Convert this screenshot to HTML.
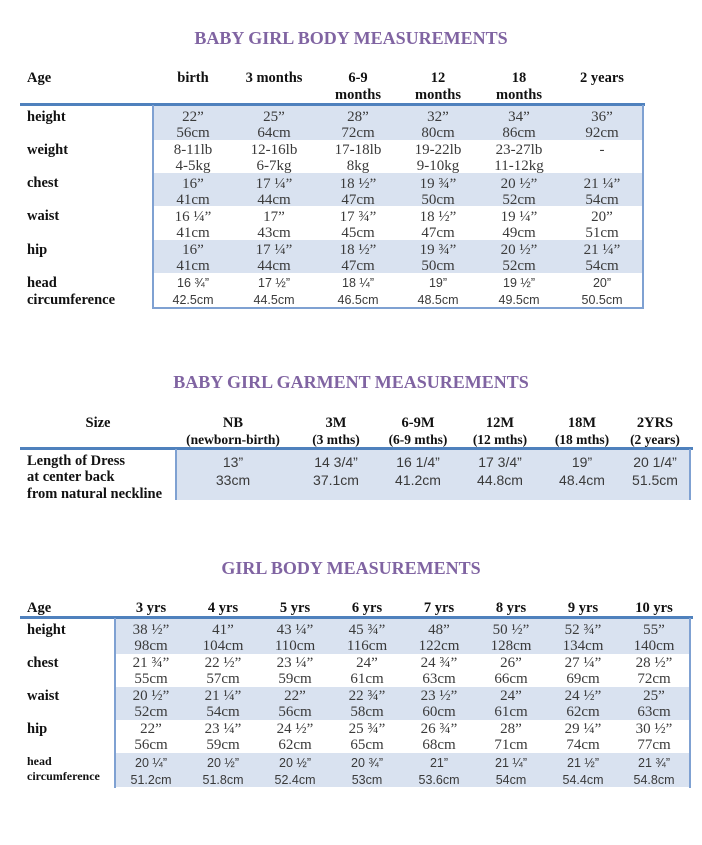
<!DOCTYPE html>
<html><head><meta charset="utf-8">
<style>
html,body{margin:0;padding:0;background:#fff;}
body{width:702px;height:845px;position:relative;overflow:hidden;font-family:"Liberation Serif",serif;}
.t{position:absolute;left:0;width:702px;text-align:center;font-weight:bold;font-size:18px;color:#8064a2;height:20px;line-height:20px;}
.h{position:absolute;width:120px;margin-left:-60px;text-align:center;font-weight:bold;font-size:14.5px;color:#111;height:18px;line-height:18px;margin-top:-9px;white-space:nowrap;}
.l{position:absolute;left:27px;font-weight:bold;font-size:14.5px;color:#111;height:18px;line-height:18px;margin-top:-9px;white-space:nowrap;}
.v{position:absolute;width:90px;margin-left:-45px;text-align:center;font-size:15px;color:#3a3a3a;height:16px;line-height:16px;margin-top:-8px;white-space:nowrap;}
.s{font-family:"Liberation Sans",sans-serif;font-size:12.5px;}
.hl{position:absolute;height:3px;background:#4f81bd;}
.sh{position:absolute;background:#d9e2f0;}
.bl{position:absolute;background:#7fa1d2;}
</style></head><body>

<!-- TABLE 1 -->
<div class="t" style="top:28px;">BABY GIRL BODY MEASUREMENTS</div>
<div class="l" style="top:78px;">Age</div>
<div class="h" style="left:193px;top:78px;">birth</div>
<div class="h" style="left:274px;top:78px;">3 months</div>
<div class="h" style="left:358px;top:78px;">6-9</div>
<div class="h" style="left:358px;top:95px;">months</div>
<div class="h" style="left:438px;top:78px;">12</div>
<div class="h" style="left:438px;top:95px;">months</div>
<div class="h" style="left:519px;top:78px;">18</div>
<div class="h" style="left:519px;top:95px;">months</div>
<div class="h" style="left:602px;top:78px;">2 years</div>

<div class="sh" style="left:153px;top:106px;width:490px;height:34px;"></div>
<div class="sh" style="left:153px;top:173px;width:490px;height:33px;"></div>
<div class="sh" style="left:153px;top:240px;width:490px;height:33px;"></div>
<div class="hl" style="left:20px;top:103px;width:625px;"></div>
<div class="bl" style="left:152px;top:105px;width:2px;height:204px;"></div>
<div class="bl" style="left:642px;top:105px;width:2px;height:204px;"></div>
<div class="bl" style="left:152px;top:307px;width:492px;height:2px;"></div>

<div class="l" style="top:117px;">height</div>
<div class="l" style="top:150px;">weight</div>
<div class="l" style="top:183px;">chest</div>
<div class="l" style="top:216px;">waist</div>
<div class="l" style="top:283px;">head</div>
<div class="l" style="top:250px;">hip</div>
<div class="l" style="top:300px;">circumference</div>

<!-- height -->
<div class="v" style="left:193px;top:117px;">22”</div><div class="v" style="left:193px;top:133px;">56cm</div>
<div class="v" style="left:274px;top:117px;">25”</div><div class="v" style="left:274px;top:133px;">64cm</div>
<div class="v" style="left:358px;top:117px;">28”</div><div class="v" style="left:358px;top:133px;">72cm</div>
<div class="v" style="left:438px;top:117px;">32”</div><div class="v" style="left:438px;top:133px;">80cm</div>
<div class="v" style="left:519px;top:117px;">34”</div><div class="v" style="left:519px;top:133px;">86cm</div>
<div class="v" style="left:602px;top:117px;">36”</div><div class="v" style="left:602px;top:133px;">92cm</div>
<!-- weight -->
<div class="v" style="left:193px;top:150px;">8-11lb</div><div class="v" style="left:193px;top:166px;">4-5kg</div>
<div class="v" style="left:274px;top:150px;">12-16lb</div><div class="v" style="left:274px;top:166px;">6-7kg</div>
<div class="v" style="left:358px;top:150px;">17-18lb</div><div class="v" style="left:358px;top:166px;">8kg</div>
<div class="v" style="left:438px;top:150px;">19-22lb</div><div class="v" style="left:438px;top:166px;">9-10kg</div>
<div class="v" style="left:519px;top:150px;">23-27lb</div><div class="v" style="left:519px;top:166px;">11-12kg</div>
<div class="v" style="left:602px;top:150px;">-</div>
<!-- chest -->
<div class="v" style="left:193px;top:184px;">16”</div><div class="v" style="left:193px;top:200px;">41cm</div>
<div class="v" style="left:274px;top:184px;">17 ¼”</div><div class="v" style="left:274px;top:200px;">44cm</div>
<div class="v" style="left:358px;top:184px;">18 ½”</div><div class="v" style="left:358px;top:200px;">47cm</div>
<div class="v" style="left:438px;top:184px;">19 ¾”</div><div class="v" style="left:438px;top:200px;">50cm</div>
<div class="v" style="left:519px;top:184px;">20 ½”</div><div class="v" style="left:519px;top:200px;">52cm</div>
<div class="v" style="left:602px;top:184px;">21 ¼”</div><div class="v" style="left:602px;top:200px;">54cm</div>
<!-- waist -->
<div class="v" style="left:193px;top:217px;">16 ¼”</div><div class="v" style="left:193px;top:233px;">41cm</div>
<div class="v" style="left:274px;top:217px;">17”</div><div class="v" style="left:274px;top:233px;">43cm</div>
<div class="v" style="left:358px;top:217px;">17 ¾”</div><div class="v" style="left:358px;top:233px;">45cm</div>
<div class="v" style="left:438px;top:217px;">18 ½”</div><div class="v" style="left:438px;top:233px;">47cm</div>
<div class="v" style="left:519px;top:217px;">19 ¼”</div><div class="v" style="left:519px;top:233px;">49cm</div>
<div class="v" style="left:602px;top:217px;">20”</div><div class="v" style="left:602px;top:233px;">51cm</div>
<!-- hip -->
<div class="v" style="left:193px;top:250px;">16”</div><div class="v" style="left:193px;top:266px;">41cm</div>
<div class="v" style="left:274px;top:250px;">17 ¼”</div><div class="v" style="left:274px;top:266px;">44cm</div>
<div class="v" style="left:358px;top:250px;">18 ½”</div><div class="v" style="left:358px;top:266px;">47cm</div>
<div class="v" style="left:438px;top:250px;">19 ¾”</div><div class="v" style="left:438px;top:266px;">50cm</div>
<div class="v" style="left:519px;top:250px;">20 ½”</div><div class="v" style="left:519px;top:266px;">52cm</div>
<div class="v" style="left:602px;top:250px;">21 ¼”</div><div class="v" style="left:602px;top:266px;">54cm</div>
<!-- head -->
<div class="v s" style="left:193px;top:283px;">16 ¾”</div><div class="v s" style="left:193px;top:300px;">42.5cm</div>
<div class="v s" style="left:274px;top:283px;">17 ½”</div><div class="v s" style="left:274px;top:300px;">44.5cm</div>
<div class="v s" style="left:358px;top:283px;">18 ¼”</div><div class="v s" style="left:358px;top:300px;">46.5cm</div>
<div class="v s" style="left:438px;top:283px;">19”</div><div class="v s" style="left:438px;top:300px;">48.5cm</div>
<div class="v s" style="left:519px;top:283px;">19 ½”</div><div class="v s" style="left:519px;top:300px;">49.5cm</div>
<div class="v s" style="left:602px;top:283px;">20”</div><div class="v s" style="left:602px;top:300px;">50.5cm</div>

<!-- TABLE 2 -->
<div class="t" style="top:372px;">BABY GIRL GARMENT MEASUREMENTS</div>
<div class="h" style="left:98px;top:423px;">Size</div>
<div class="h" style="left:233px;top:423px;">NB</div>
<div class="h" style="left:233px;top:440px;font-size:13.5px;">(newborn-birth)</div>
<div class="h" style="left:336px;top:423px;">3M</div>
<div class="h" style="left:336px;top:440px;font-size:13.5px;">(3 mths)</div>
<div class="h" style="left:418px;top:423px;">6-9M</div>
<div class="h" style="left:418px;top:440px;font-size:13.5px;">(6-9 mths)</div>
<div class="h" style="left:500px;top:423px;">12M</div>
<div class="h" style="left:500px;top:440px;font-size:13.5px;">(12 mths)</div>
<div class="h" style="left:582px;top:423px;">18M</div>
<div class="h" style="left:582px;top:440px;font-size:13.5px;">(18 mths)</div>
<div class="h" style="left:655px;top:423px;">2YRS</div>
<div class="h" style="left:655px;top:440px;font-size:13.5px;">(2 years)</div>

<div class="sh" style="left:176px;top:450px;width:514px;height:50px;"></div>
<div class="hl" style="left:20px;top:447px;width:673px;"></div>
<div class="bl" style="left:175px;top:449px;width:2px;height:51px;"></div>
<div class="bl" style="left:689px;top:449px;width:2px;height:51px;"></div>

<div class="l" style="top:461px;">Length of Dress</div>
<div class="l" style="top:477px;">at center back</div>
<div class="l" style="top:494px;">from natural neckline</div>

<div class="v s" style="left:233px;top:462px;font-size:14px;">13”</div><div class="v s" style="left:233px;top:480px;font-size:14px;">33cm</div>
<div class="v s" style="left:336px;top:462px;font-size:14px;">14 3/4”</div><div class="v s" style="left:336px;top:480px;font-size:14px;">37.1cm</div>
<div class="v s" style="left:418px;top:462px;font-size:14px;">16 1/4”</div><div class="v s" style="left:418px;top:480px;font-size:14px;">41.2cm</div>
<div class="v s" style="left:500px;top:462px;font-size:14px;">17 3/4”</div><div class="v s" style="left:500px;top:480px;font-size:14px;">44.8cm</div>
<div class="v s" style="left:582px;top:462px;font-size:14px;">19”</div><div class="v s" style="left:582px;top:480px;font-size:14px;">48.4cm</div>
<div class="v s" style="left:655px;top:462px;font-size:14px;">20 1/4”</div><div class="v s" style="left:655px;top:480px;font-size:14px;">51.5cm</div>

<!-- TABLE 3 -->
<div class="t" style="top:558px;">GIRL BODY MEASUREMENTS</div>
<div class="l" style="top:608px;">Age</div>
<div class="h" style="left:151px;top:608px;">3 yrs</div>
<div class="h" style="left:223px;top:608px;">4 yrs</div>
<div class="h" style="left:295px;top:608px;">5 yrs</div>
<div class="h" style="left:367px;top:608px;">6 yrs</div>
<div class="h" style="left:439px;top:608px;">7 yrs</div>
<div class="h" style="left:511px;top:608px;">8 yrs</div>
<div class="h" style="left:583px;top:608px;">9 yrs</div>
<div class="h" style="left:654px;top:608px;">10 yrs</div>

<div class="sh" style="left:115px;top:619px;width:575px;height:35px;"></div>
<div class="sh" style="left:115px;top:687px;width:575px;height:33px;"></div>
<div class="sh" style="left:115px;top:753px;width:575px;height:34px;"></div>
<div class="hl" style="left:20px;top:616px;width:673px;"></div>
<div class="bl" style="left:114px;top:618px;width:2px;height:170px;"></div>
<div class="bl" style="left:689px;top:618px;width:2px;height:170px;"></div>

<div class="l" style="top:630px;">height</div>
<div class="l" style="top:663px;">chest</div>
<div class="l" style="top:696px;">waist</div>
<div class="l" style="top:729px;">hip</div>
<div class="l" style="top:761px;font-size:12px;">head</div>
<div class="l" style="top:776px;font-size:12px;">circumference</div>

<!-- height -->
<div class="v" style="left:151px;top:630px;">38 ½”</div><div class="v" style="left:151px;top:646px;">98cm</div>
<div class="v" style="left:223px;top:630px;">41”</div><div class="v" style="left:223px;top:646px;">104cm</div>
<div class="v" style="left:295px;top:630px;">43 ¼”</div><div class="v" style="left:295px;top:646px;">110cm</div>
<div class="v" style="left:367px;top:630px;">45 ¾”</div><div class="v" style="left:367px;top:646px;">116cm</div>
<div class="v" style="left:439px;top:630px;">48”</div><div class="v" style="left:439px;top:646px;">122cm</div>
<div class="v" style="left:511px;top:630px;">50 ½”</div><div class="v" style="left:511px;top:646px;">128cm</div>
<div class="v" style="left:583px;top:630px;">52 ¾”</div><div class="v" style="left:583px;top:646px;">134cm</div>
<div class="v" style="left:654px;top:630px;">55”</div><div class="v" style="left:654px;top:646px;">140cm</div>
<!-- chest -->
<div class="v" style="left:151px;top:663px;">21 ¾”</div><div class="v" style="left:151px;top:679px;">55cm</div>
<div class="v" style="left:223px;top:663px;">22 ½”</div><div class="v" style="left:223px;top:679px;">57cm</div>
<div class="v" style="left:295px;top:663px;">23 ¼”</div><div class="v" style="left:295px;top:679px;">59cm</div>
<div class="v" style="left:367px;top:663px;">24”</div><div class="v" style="left:367px;top:679px;">61cm</div>
<div class="v" style="left:439px;top:663px;">24 ¾”</div><div class="v" style="left:439px;top:679px;">63cm</div>
<div class="v" style="left:511px;top:663px;">26”</div><div class="v" style="left:511px;top:679px;">66cm</div>
<div class="v" style="left:583px;top:663px;">27 ¼”</div><div class="v" style="left:583px;top:679px;">69cm</div>
<div class="v" style="left:654px;top:663px;">28 ½”</div><div class="v" style="left:654px;top:679px;">72cm</div>
<!-- waist -->
<div class="v" style="left:151px;top:696px;">20 ½”</div><div class="v" style="left:151px;top:712px;">52cm</div>
<div class="v" style="left:223px;top:696px;">21 ¼”</div><div class="v" style="left:223px;top:712px;">54cm</div>
<div class="v" style="left:295px;top:696px;">22”</div><div class="v" style="left:295px;top:712px;">56cm</div>
<div class="v" style="left:367px;top:696px;">22 ¾”</div><div class="v" style="left:367px;top:712px;">58cm</div>
<div class="v" style="left:439px;top:696px;">23 ½”</div><div class="v" style="left:439px;top:712px;">60cm</div>
<div class="v" style="left:511px;top:696px;">24”</div><div class="v" style="left:511px;top:712px;">61cm</div>
<div class="v" style="left:583px;top:696px;">24 ½”</div><div class="v" style="left:583px;top:712px;">62cm</div>
<div class="v" style="left:654px;top:696px;">25”</div><div class="v" style="left:654px;top:712px;">63cm</div>
<!-- hip -->
<div class="v" style="left:151px;top:729px;">22”</div><div class="v" style="left:151px;top:745px;">56cm</div>
<div class="v" style="left:223px;top:729px;">23 ¼”</div><div class="v" style="left:223px;top:745px;">59cm</div>
<div class="v" style="left:295px;top:729px;">24 ½”</div><div class="v" style="left:295px;top:745px;">62cm</div>
<div class="v" style="left:367px;top:729px;">25 ¾”</div><div class="v" style="left:367px;top:745px;">65cm</div>
<div class="v" style="left:439px;top:729px;">26 ¾”</div><div class="v" style="left:439px;top:745px;">68cm</div>
<div class="v" style="left:511px;top:729px;">28”</div><div class="v" style="left:511px;top:745px;">71cm</div>
<div class="v" style="left:583px;top:729px;">29 ¼”</div><div class="v" style="left:583px;top:745px;">74cm</div>
<div class="v" style="left:654px;top:729px;">30 ½”</div><div class="v" style="left:654px;top:745px;">77cm</div>
<!-- head -->
<div class="v s" style="left:151px;top:763px;">20 ¼”</div><div class="v s" style="left:151px;top:780px;">51.2cm</div>
<div class="v s" style="left:223px;top:763px;">20 ½”</div><div class="v s" style="left:223px;top:780px;">51.8cm</div>
<div class="v s" style="left:295px;top:763px;">20 ½”</div><div class="v s" style="left:295px;top:780px;">52.4cm</div>
<div class="v s" style="left:367px;top:763px;">20 ¾”</div><div class="v s" style="left:367px;top:780px;">53cm</div>
<div class="v s" style="left:439px;top:763px;">21”</div><div class="v s" style="left:439px;top:780px;">53.6cm</div>
<div class="v s" style="left:511px;top:763px;">21 ¼”</div><div class="v s" style="left:511px;top:780px;">54cm</div>
<div class="v s" style="left:583px;top:763px;">21 ½”</div><div class="v s" style="left:583px;top:780px;">54.4cm</div>
<div class="v s" style="left:654px;top:763px;">21 ¾”</div><div class="v s" style="left:654px;top:780px;">54.8cm</div>

</body></html>
